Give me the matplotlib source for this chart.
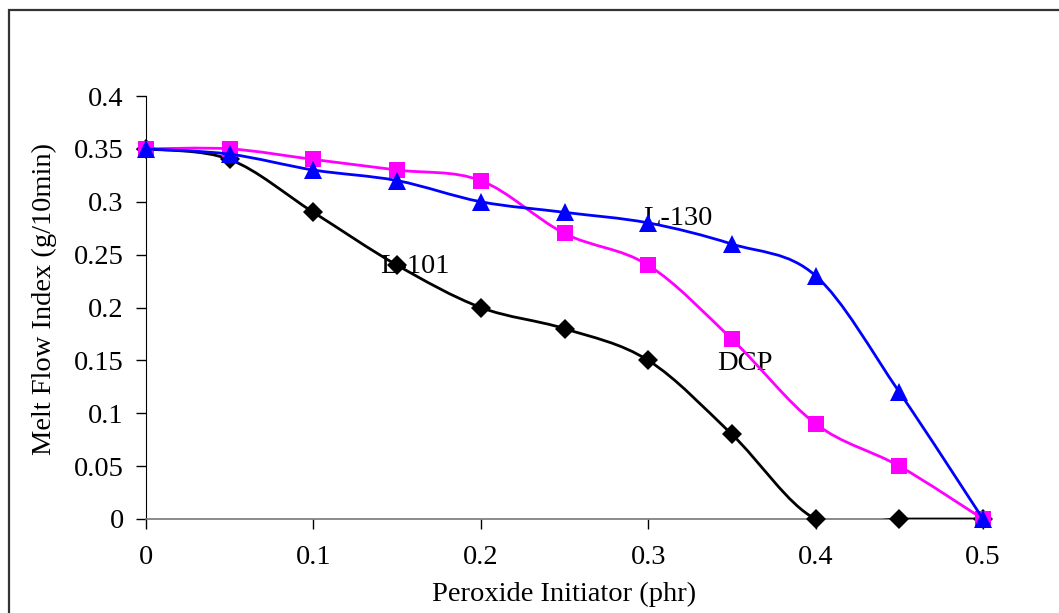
import matplotlib
matplotlib.use("Agg")
import matplotlib.pyplot as plt
from matplotlib.path import Path
from matplotlib.patches import PathPatch, Rectangle
import numpy as np

# --- Data ---
initiator = [0, 0.05, 0.1, 0.15, 0.2, 0.25, 0.3, 0.35, 0.4, 0.45, 0.5]
mfi_l101 = [0.35, 0.34, 0.29, 0.24, 0.20, 0.18, 0.15, 0.08, 0.0, 0.0, 0.0]
mfi_dcp = [0.35, 0.35, 0.34, 0.33, 0.32, 0.27, 0.24, 0.17, 0.09, 0.05, 0.0]
mfi_l130 = [0.35, 0.345, 0.33, 0.32, 0.30, 0.29, 0.28, 0.26, 0.23, 0.12, 0.0]

x_ticks = [0, 0.1, 0.2, 0.3, 0.4, 0.5]
x_tick_labels = ["0", "0.1", "0.2", "0.3", "0.4", "0.5"]
y_ticks = [0, 0.05, 0.1, 0.15, 0.2, 0.25, 0.3, 0.35, 0.4]
y_tick_labels = ["0", "0.05", "0.1", "0.15", "0.2", "0.25", "0.3", "0.35", "0.4"]

plt.rcParams["font.family"] = ["Liberation Serif", "DejaVu Serif"]
FS = 20.5


def smooth_path(xs, ys):
    # Excel-style smoothed line: Catmull-Rom segments as cubic Beziers
    p = np.column_stack([xs, ys]).astype(float)
    n = len(p)
    verts = [p[0]]
    codes = [Path.MOVETO]
    for i in range(n - 1):
        p_prev = p[i - 1] if i > 0 else p[i]
        p_next = p[i + 2] if i + 2 < n else p[i + 1]
        c1 = p[i] + (p[i + 1] - p_prev) / 6
        c2 = p[i + 1] - (p_next - p[i]) / 6
        verts += [c1, c2, p[i + 1]]
        codes += [Path.CURVE4] * 3
    return Path(verts, codes)


fig = plt.figure(figsize=(10.59, 6.13), dpi=100)
ax = fig.add_axes([146 / 1059, 1 - 519 / 613, 837 / 1059, 423 / 613])

series = [
    (mfi_l101, "black", "D", 10),
    (mfi_dcp, "#ff00ff", "s", 11),
    (mfi_l130, "#0000ff", "^", 13.5),
]
z = 3
for ys, col, mk, ms in series:
    ax.add_patch(PathPatch(smooth_path(initiator, ys), facecolor="none",
                           edgecolor=col, lw=2.0, zorder=z))
    ax.plot(initiator, ys, linestyle="none", marker=mk, markersize=ms,
            color=col, markeredgewidth=0, zorder=z + 1, clip_on=False)
    z += 2

ax.set_xlim(0, 0.5)
ax.set_ylim(0, 0.4)
ax.set_xticks(x_ticks)
ax.set_xticklabels(x_tick_labels, fontsize=FS)
ax.set_yticks(y_ticks)
ax.set_yticklabels(y_tick_labels, fontsize=FS)
ax.tick_params(axis="y", direction="out", length=7, width=1, pad=9)
ax.tick_params(axis="x", direction="out", length=7, width=1, pad=12)

for s in ["top", "right"]:
    ax.spines[s].set_visible(False)
ax.spines["left"].set_color("black")
ax.spines["bottom"].set_color("#777777")
ax.spines["bottom"].set_linewidth(1.2)

ax.set_xlabel("Peroxide Initiator (phr)", fontsize=FS, labelpad=8)
ax.set_ylabel("Melt Flow Index (g/10min)", fontsize=FS)
ax.yaxis.set_label_coords(-0.106, 0.52)

# series labels
ax.text(0.1398, 0.2326, "L-101", fontsize=FS, va="baseline", zorder=2)
ax.text(0.2969, 0.278, "L-130", fontsize=FS, va="baseline", zorder=2)
ax.text(0.3411, 0.1409, "DCP", fontsize=FS, va="baseline", zorder=2)

# outer chart border
fig.patches.append(Rectangle((9 / 1059, -0.05), 1.1, 1.05 - 10 / 613,
                             transform=fig.transFigure, fill=False,
                             edgecolor="#333333", lw=1.6))

fig.savefig("out.png", dpi=100)
